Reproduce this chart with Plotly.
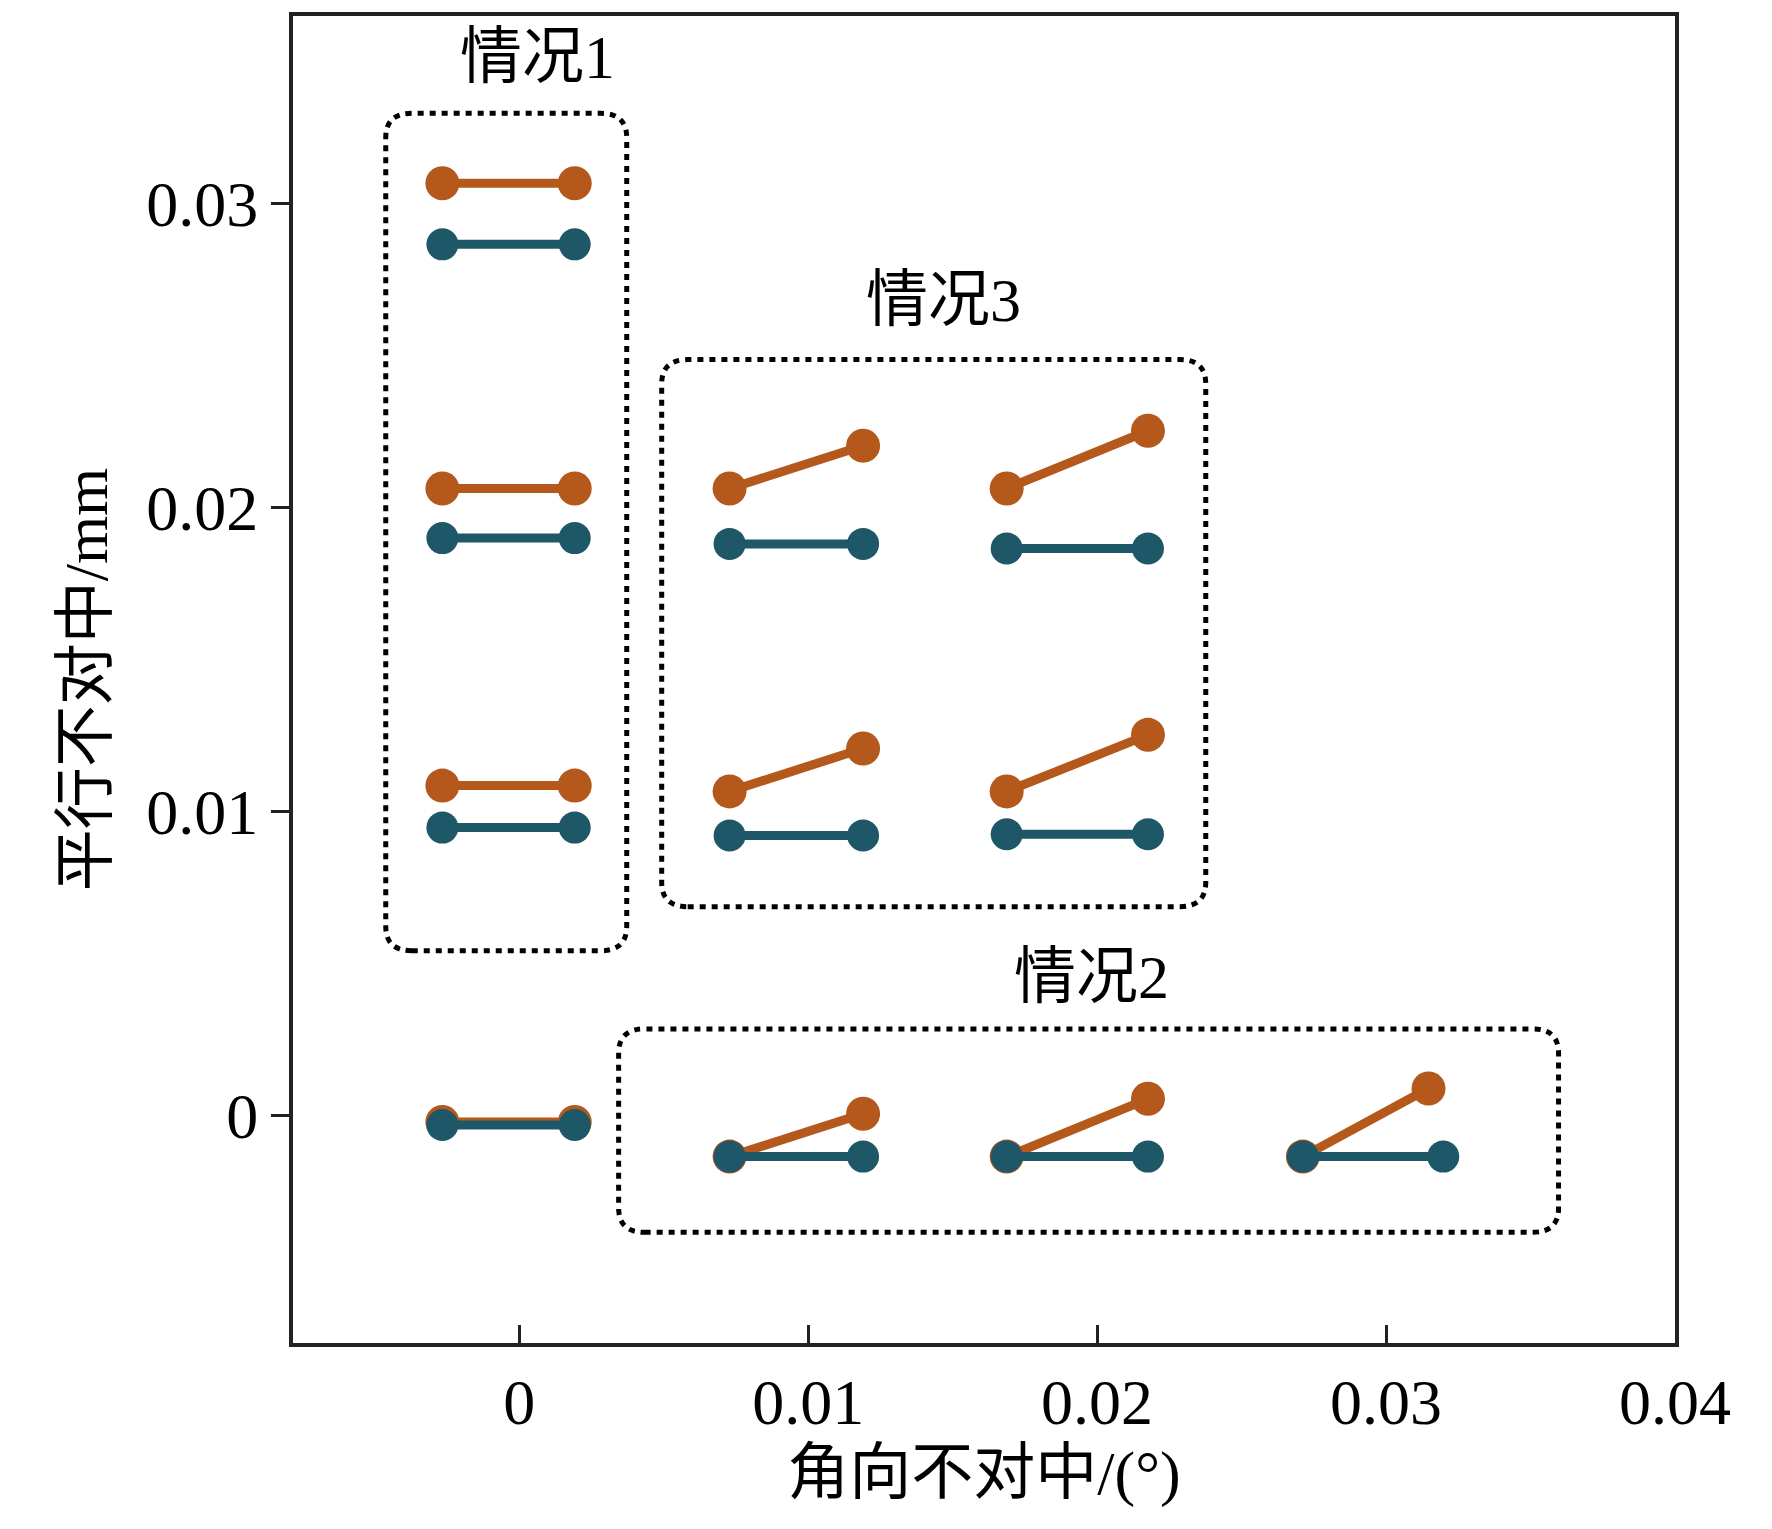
import plotly.graph_objects as go

ORANGE = "#B4581B"
TEAL = "#1E5868"

# each segment: (x0, x1, y0, y1)
orange_segments = [
    (-0.00266, 0.00192, 0.03067, 0.03067),
    (-0.00266, 0.00192, 0.02063, 0.02063),
    (-0.00266, 0.00192, 0.01086, 0.01086),
    (-0.00266, 0.00192, -0.0002, -0.0002),
    (0.00728, 0.0119, 0.02063, 0.02204),
    (0.01687, 0.02176, 0.02063, 0.02253),
    (0.00728, 0.0119, 0.01067, 0.01208),
    (0.01687, 0.02176, 0.01067, 0.01253),
    (0.00728, 0.0119, -0.00134, 0.00007),
    (0.01687, 0.02176, -0.00134, 0.00056),
    (0.02712, 0.03147, -0.00134, 0.0009),
]
teal_segments = [
    (-0.00266, 0.00192, 0.02866, 0.02866),
    (-0.00266, 0.00192, 0.0190, 0.0190),
    (-0.00266, 0.00192, 0.00948, 0.00948),
    (-0.00266, 0.00192, -0.0003, -0.0003),
    (0.00728, 0.0119, 0.01881, 0.01881),
    (0.01687, 0.02176, 0.01866, 0.01866),
    (0.00728, 0.0119, 0.00922, 0.00922),
    (0.01687, 0.02176, 0.00926, 0.00926),
    (0.00728, 0.0119, -0.00134, -0.00134),
    (0.01687, 0.02176, -0.00134, -0.00134),
    (0.02712, 0.03198, -0.00134, -0.00134),
]
# groups: (name, x0, x1, y0, y1, label_x, label_y)
groups = [
    ("情况1", -0.00462, 0.00372, 0.00543, 0.03297, 0.00063, 0.03483),
    ("情况3", 0.00493, 0.02376, 0.00688, 0.02487, 0.01468, 0.02684),
    ("情况2", 0.00344, 0.03597, -0.00383, 0.00286, 0.0198, 0.00457),
]

x_ticks = [0, 0.01, 0.02, 0.03, 0.04]
x_labels = ["0", "0.01", "0.02", "0.03", "0.04"]
y_ticks = [0, 0.01, 0.02, 0.03]
y_labels = ["0", "0.01", "0.02", "0.03"]

fig = go.Figure()
for segs, color, size in [(orange_segments, ORANGE, 34), (teal_segments, TEAL, 32)]:
    for x0, x1, y0, y1 in segs:
        fig.add_trace(go.Scatter(
            x=[x0, x1], y=[y0, y1], mode="lines+markers",
            line=dict(color=color, width=9),
            marker=dict(color=color, size=size),
            showlegend=False, hoverinfo="skip",
        ))


def rounded_box(x0, x1, y0, y1, rx=0.0009, ry=0.0008):
    return (f"M {x0 + rx} {y0} L {x1 - rx} {y0} Q {x1} {y0} {x1} {y0 + ry} "
            f"L {x1} {y1 - ry} Q {x1} {y1} {x1 - rx} {y1} "
            f"L {x0 + rx} {y1} Q {x0} {y1} {x0} {y1 - ry} "
            f"L {x0} {y0 + ry} Q {x0} {y0} {x0 + rx} {y0} Z")


for name, x0, x1, y0, y1, lx, ly in groups:
    fig.add_shape(type="path", path=rounded_box(x0, x1, y0, y1),
                  line=dict(color="black", width=5, dash="6px,6px"), layer="below")
    fig.add_annotation(x=lx, y=ly, text=name, showarrow=False,
                       font=dict(size=62, color="black"))

axis_common = dict(
    showgrid=False, zeroline=False, showline=True, linecolor="#222", linewidth=4,
    mirror=True, ticklen=18, tickwidth=3, tickcolor="#222",
    tickfont=dict(size=64, color="black"),
)
fig.update_xaxes(range=[-0.00783, 0.04], tickvals=x_ticks, ticktext=x_labels,
                 ticks="inside", title=dict(text="角向不对中/(°)", font=dict(size=62, color="black"), standoff=15),
                 **axis_common)
fig.update_yaxes(range=[-0.00747, 0.03617], tickvals=y_ticks, ticktext=y_labels,
                 ticks="outside", title=dict(text="平行不对中/mm", font=dict(size=62, color="black"), standoff=20),
                 **axis_common)
fig.update_layout(
    width=1772, height=1529,
    margin=dict(l=285, r=105, t=4, b=194),
    plot_bgcolor="white", paper_bgcolor="white",
    font=dict(family="Liberation Serif, Noto Sans CJK SC, serif", color="black"),
)
fig.write_html("out.html")
